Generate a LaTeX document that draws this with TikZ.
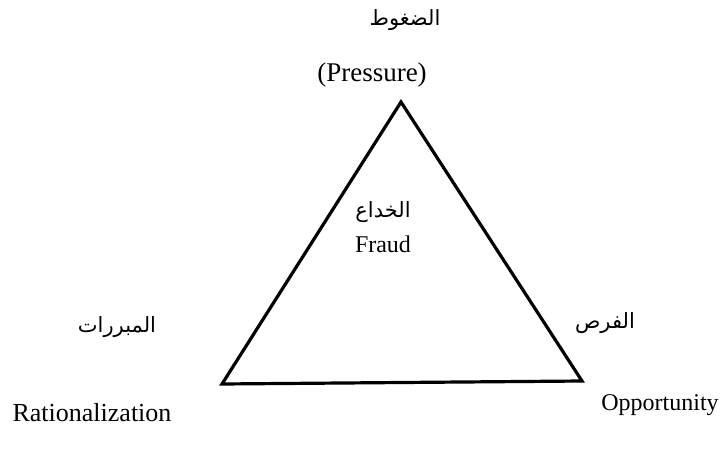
\documentclass[tikz,border=0pt]{standalone}
\usepackage{fontspec}
\setmainfont{Liberation Serif}
\newfontfamily\arabicfont[Script=Arabic]{DejaVu Sans}
\TeXXeTstate=1
\usetikzlibrary{positioning}

\begin{document}
\begin{tikzpicture}[
  x=1pt,y=-1pt,
  lat/.style={inner sep=0pt,font=\fontsize{24}{28}\selectfont},
  ara/.style={inner sep=0pt,font=\arabicfont\fontsize{21}{25}\selectfont},
  side/.style={draw=black,line width=3.2pt,line join=miter},
]
\useasboundingbox (0,0) rectangle (723,458);

% corners of the triangle
\coordinate (top) at (401,102);
\coordinate (left) at (222,384);
\coordinate (right) at (582,381);

\draw[side] (top) -- (right) -- (left) -- cycle;

% labels
\node[lat,font=\fontsize{27}{30}\selectfont] (press) at (372,75) {(Pressure)};
\node[ara] (pressar) at (405,20) {\beginR الضغوط\endR};

\node[ara] (fraudar) at (383,212) {\beginR الخداع\endR};
\node[lat,below=13pt of fraudar] (fraud) {Fraud};

\node[ara] (ratar) at (117,327) {\beginR المبررات\endR};
\node[lat,font=\fontsize{26}{30}\selectfont] (rat) at (92,413) {Rationalization};

\node[ara] (oppar) at (605,323) {\beginR الفرص\endR};
\node[lat] (opp) at (660,405) {Opportunity};

\end{tikzpicture}
\end{document}
